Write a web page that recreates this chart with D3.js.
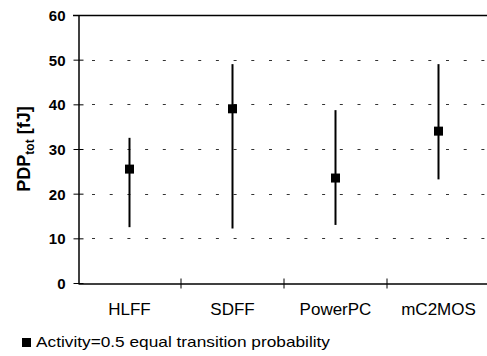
<!DOCTYPE html>
<html><head><meta charset="utf-8">
<script src="https://cdn.jsdelivr.net/npm/d3@7"></script>
<style>html,body{margin:0;padding:0;background:#fff;}svg{display:block;}</style>
</head><body>
<svg id="c" width="487" height="356"></svg>
<script>
const categories = ["HLFF", "SDFF", "PowerPC", "mC2MOS"];
const meanValues = [25.5, 39.0, 23.5, 34.0];
const lowValues  = [12.5, 12.2, 13.0, 23.2];
const highValues = [32.5, 49.0, 38.7, 49.0];
const yTicks = [0, 10, 20, 30, 40, 50, 60];
const legendLabel = "Activity=0.5 equal transition probability";

const svg = d3.select("#c");
const font = "Liberation Sans, Arial, Helvetica, sans-serif";
const x = d3.scaleBand().domain(categories).range([78, 490]);
const y = d3.scaleLinear().domain([0, 60]).range([283, 15]);

// dashed gridlines
svg.append("g").selectAll("line").data(yTicks.filter(d => d > 0 && d < 60)).join("line")
  .attr("x1", 78).attr("x2", 487)
  .attr("y1", d => Math.round(y(d)) + 0.5).attr("y2", d => Math.round(y(d)) + 0.5)
  .attr("stroke", "#333").attr("stroke-width", 1.2)
  .attr("stroke-dasharray", "3,14.7").attr("stroke-dashoffset", -14);

// top line at 60
svg.append("line").attr("x1", 73).attr("x2", 487)
  .attr("y1", Math.round(y(60)) + 0.5).attr("y2", Math.round(y(60)) + 0.5)
  .attr("stroke", "#000").attr("stroke-width", 1.5);

// y axis
const yAxis = d3.axisLeft(y).tickValues(yTicks).tickSize(0).tickPadding(13);
const gy = svg.append("g").attr("transform", "translate(78.5,0)").call(yAxis);
gy.select(".domain").attr("stroke", "#000").attr("stroke-width", 1.5);
gy.selectAll("text").attr("font-family", font).attr("font-size", 15)
  .attr("font-weight", "bold").attr("fill", "#000").attr("dy", "0.36em");
gy.selectAll(".tick").append("line").attr("x1", -5).attr("x2", 5)
  .attr("stroke", "#000").attr("stroke-width", 1);

// x axis
const xAxis = d3.axisBottom(x).tickSize(0).tickPadding(19);
const gx = svg.append("g").attr("transform", `translate(0,${Math.round(y(0)) + 0.5})`).call(xAxis);
gx.select(".domain").attr("stroke", "#000").attr("stroke-width", 1.5);
gx.selectAll("text").attr("font-family", font).attr("font-size", 17)
  .attr("fill", "#000").attr("dy", "0.71em");
gx.selectAll("line.sep").data(categories.slice(1)).join("line").attr("class", "sep")
  .attr("x1", d => x(d)).attr("x2", d => x(d)).attr("y1", -5).attr("y2", 5)
  .attr("stroke", "#000").attr("stroke-width", 1);

// error bars
const data = categories.map((c, i) => ({c, m: meanValues[i], lo: lowValues[i], hi: highValues[i]}));
const cx = d => x(d.c) + x.bandwidth() / 2;
svg.append("g").selectAll("line").data(data).join("line")
  .attr("x1", cx).attr("x2", cx)
  .attr("y1", d => y(d.hi)).attr("y2", d => y(d.lo))
  .attr("stroke", "#000").attr("stroke-width", 2);
svg.append("g").selectAll("rect").data(data).join("rect")
  .attr("x", d => cx(d) - 4.5).attr("y", d => y(d.m) - 4.5)
  .attr("width", 9).attr("height", 9).attr("fill", "#000");

// y title
const yt = svg.append("text")
  .attr("transform", `translate(30,${(y(0) + y(60)) / 2}) rotate(-90)`)
  .attr("text-anchor", "middle").attr("font-family", font)
  .attr("font-weight", "bold").attr("font-size", 18).attr("fill", "#000");
yt.append("tspan").text("PDP");
yt.append("tspan").text("tot").attr("font-size", 12).attr("dy", 4);
yt.append("tspan").text(" [fJ]").attr("dy", -4);

// legend
svg.append("rect").attr("x", 22).attr("y", 338).attr("width", 9).attr("height", 9).attr("fill", "#000");
svg.append("text").attr("x", 36).attr("y", 347).attr("font-family", font)
  .attr("font-size", 15).attr("fill", "#000")
  .attr("textLength", 294).attr("lengthAdjust", "spacingAndGlyphs")
  .text(legendLabel);
</script>
</body></html>
